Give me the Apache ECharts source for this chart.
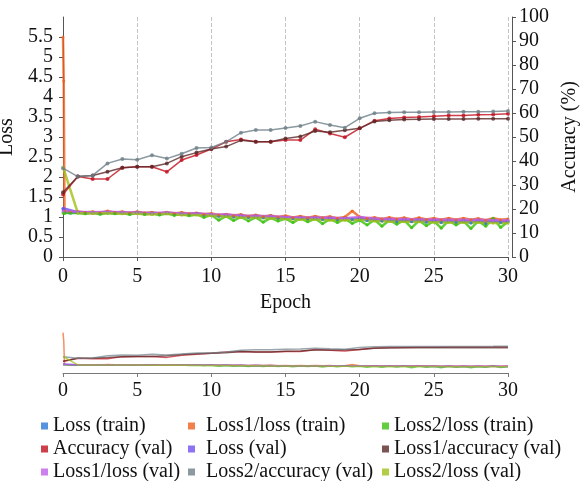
<!DOCTYPE html>
<html>
<head>
<meta charset="utf-8">
<script src="https://cdn.jsdelivr.net/npm/echarts@6/dist/echarts.min.js"></script>
<style>
html,body{margin:0;padding:0;background:#fff;}
#c{width:580px;height:481px;}
</style>
</head>
<body>
<div id="c"></div>
<script>
// ---- data ----
const trainX = [0,0.05,0.1,0.5,1,1.5,2,2.5,3,3.5,4,4.5,5,5.5,6,6.5,7,7.5,8,8.5,9,9.5,10,10.5,11,11.5,12,12.5,13,13.5,14,14.5,15,15.5,16,16.5,17,17.5,18,18.5,19,19.5,20,20.5,21,21.5,22,22.5,23,23.5,24,24.5,25,25.5,26,26.5,27,27.5,28,28.5,29,29.5,30];
const lossTrain = [1.2,1.16,1.12,
  1.1,1.12,1.1,1.11,1.09,1.12,1.1,1.11,1.08,1.12,1.09,1.1,1.07,1.11,1.07,1.1,1.06,1.09,1.04,1.07,
  1.02,1.06,1.0,1.05,0.99,1.04,0.98,1.03,0.97,1.0,0.96,1.0,0.95,1.0,0.94,0.99,0.93,0.98,0.94,0.97,
  0.91,0.96,0.9,0.96,0.88,0.95,0.88,0.95,0.87,0.94,0.86,0.94,0.86,0.93,0.85,0.93,0.84,0.95,0.86,0.9];
const loss1Train = [5.5,4.4,1.15,
  1.12,1.14,1.11,1.13,1.1,1.15,1.11,1.13,1.1,1.13,1.1,1.12,1.09,1.12,1.09,1.11,1.08,1.1,1.07,1.09,
  1.05,1.07,1.04,1.06,1.02,1.05,1.01,1.04,1.0,1.03,0.99,1.02,0.98,1.02,0.98,1.01,0.97,1.0,1.15,1.0,
  0.96,0.99,0.95,0.99,0.95,0.98,0.94,0.98,0.94,0.97,0.93,0.97,0.93,0.97,0.93,0.96,0.92,0.97,0.93,0.95];
const loss2Train = [1.1,1.1,1.09,
  1.1,1.1,1.08,1.11,1.07,1.1,1.08,1.1,1.06,1.11,1.06,1.1,1.05,1.09,1.04,1.08,1.03,1.07,0.99,1.05,
  0.92,1.02,0.91,1.0,0.9,0.99,0.87,0.98,0.9,0.96,0.86,0.97,0.88,0.96,0.83,0.95,0.86,0.96,0.84,0.92,
  0.8,0.93,0.77,0.92,0.82,0.92,0.73,0.91,0.78,0.9,0.72,0.91,0.8,0.9,0.71,0.9,0.77,0.97,0.74,0.88];

const valX = [0,1,2,3,4,5,6,7,8,9,10,11,12,13,14,15,16,17,18,19,20,21,22,23,24,25,26,27,28,29,30];
const accVal = [26,33.5,32.5,32.5,37.2,37.6,37.6,35.5,40.4,42.5,45,48,49,48,48,48.7,48.7,53.2,51.5,49.9,53.6,56.8,57.7,58.1,58.3,58.6,59,59,59.3,59.4,59.7];
const lossVal = [1.22,1.12,1.1,1.12,1.1,1.1,1.08,1.1,1.07,1.08,1.05,1.04,1.02,1.0,1.0,0.98,0.97,0.97,0.96,0.95,0.97,0.93,0.92,0.92,0.91,0.9,0.9,0.89,0.9,0.88,0.88];
const loss1AccVal = [27,33.5,34,35.5,37.2,37.6,37.6,39,41.8,43.5,45,46,48.6,48,48,49.4,50.2,52.5,52,52.8,53.6,56.5,57,57.3,57.4,57.5,57.5,57.5,57.6,57.6,57.6];
const loss1LossVal = [1.15,1.13,1.12,1.13,1.12,1.11,1.1,1.11,1.09,1.09,1.07,1.06,1.04,1.03,1.02,1.0,0.99,0.99,0.98,0.97,1.0,0.96,0.95,0.95,0.94,0.94,0.93,0.93,0.93,0.92,0.92];
const loss2AccVal = [37,33.5,34,39,40.8,40.5,42.4,41,43,45.4,45.6,48,51.8,52.9,52.9,53.75,54.6,56.4,55,53.9,57.8,59.9,60.2,60.3,60.3,60.4,60.4,60.5,60.5,60.6,60.8];
const loss2LossVal = [2.25,1.1,1.09,1.1,1.08,1.08,1.06,1.08,1.05,1.05,1.03,1.01,0.99,0.98,0.97,0.95,0.94,0.94,0.92,0.92,0.93,0.9,0.89,0.88,0.88,0.87,0.86,0.86,0.86,0.85,0.85];

const xTicks = [0,5,10,15,20,25,30];

const seriesDefs = [
  {name:'Loss (train)', x:trainX, y:lossTrain, color:'#2a78d8', acc:false},
  {name:'Loss1/loss (train)', x:trainX, y:loss1Train, color:'#f0601e', acc:false},
  {name:'Loss2/loss (train)', x:trainX, y:loss2Train, color:'#3cc010', acc:false},
  {name:'Accuracy (val)', x:valX, y:accVal, color:'#c0101e', acc:true},
  {name:'Loss (val)', x:valX, y:lossVal, color:'#7050f0', acc:false},
  {name:'Loss1/accuracy (val)', x:valX, y:loss1AccVal, color:'#5a2828', acc:true},
  {name:'Loss1/loss (val)', x:valX, y:loss1LossVal, color:'#c060e8', acc:false},
  {name:'Loss2/accuracy (val)', x:valX, y:loss2AccVal, color:'#6e8088', acc:true},
  {name:'Loss2/loss (val)', x:valX, y:loss2LossVal, color:'#a0c018', acc:false}
];

const FONT = '"Liberation Serif","Times New Roman",serif';
const series = [];
seriesDefs.forEach(d => {
  const pts = d.x.map((xv,i)=>[xv,d.y[i]]);
  series.push({
    name:d.name, type:'line', xAxisIndex:0, yAxisIndex:d.acc?1:0,
    data:pts, color:d.color, symbol:'circle', symbolSize:d.acc?4:3,
    showSymbol:true,
    lineStyle:{width:d.acc?1.5:2.5, opacity:0.8}, itemStyle:{opacity:0.8},
    z: d.acc?3:2
  });
});
seriesDefs.forEach(d => {
  const pts = d.x.map((xv,i)=>[xv,d.y[i]]);
  series.push({
    name:d.name, type:'line', xAxisIndex:1, yAxisIndex:d.acc?3:2,
    data:pts, color:d.color, showSymbol:false,
    lineStyle:{width:1.5, opacity:0.7}
  });
});

function legend(names, left, pad){
  return {
    type:'plain', orient:'vertical', left:left, top:411, height:100, itemGap:3,
    icon:'rect', itemWidth:7, itemHeight:7,
    data:names,
    textStyle:{fontFamily:FONT, fontSize:20, color:'#111', padding:[0,0,0,pad]}
  };
}

const chart = echarts.init(document.getElementById('c'), null, {renderer:'canvas'});
chart.setOption({
  animation:false,
  backgroundColor:'#fff',
  grid:[
    {left:63, right:72, top:17, height:240, containLabel:false, outerBoundsMode:'none'},
    {left:63, right:72, top:329, height:44, containLabel:false, outerBoundsMode:'none'}
  ],
  xAxis:[
    {type:'value', gridIndex:0, min:xTicks[0], max:xTicks[xTicks.length-1], interval:5,
     name:'Epoch', nameLocation:'middle', nameGap:36,
     nameTextStyle:{fontFamily:FONT, fontSize:20, color:'#111'},
     axisLine:{lineStyle:{color:'#555'}},
     axisTick:{show:true, length:4, lineStyle:{color:'#555'}},
     axisLabel:{fontFamily:FONT, fontSize:20, color:'#111', margin:10},
     splitLine:{show:true, lineStyle:{color:'#c4c4c4', type:'dashed'}}},
    {type:'value', gridIndex:1, min:xTicks[0], max:xTicks[xTicks.length-1], interval:5,
     axisLine:{lineStyle:{color:'#777'}},
     axisTick:{show:true, length:4, lineStyle:{color:'#777'}},
     axisLabel:{fontFamily:FONT, fontSize:20, color:'#111', margin:8},
     splitLine:{show:false}}
  ],
  yAxis:[
    {type:'value', gridIndex:0, min:0, max:6, interval:0.5, position:'left', offset:2,
     name:'Loss', nameLocation:'middle', nameGap:36, nameRotate:90,
     nameTextStyle:{fontFamily:FONT, fontSize:20, color:'#111'},
     axisLine:{show:true, lineStyle:{color:'#555'}},
     axisTick:{show:true, length:4, lineStyle:{color:'#555'}},
     axisLabel:{fontFamily:FONT, fontSize:20, color:'#111', margin:8, showMaxLabel:false},
     splitLine:{show:false}},
    {type:'value', gridIndex:0, min:0, max:100, interval:10, position:'right', offset:4,
     name:'Accuracy (%)', nameLocation:'middle', nameGap:48, nameRotate:90,
     nameTextStyle:{fontFamily:FONT, fontSize:20, color:'#111'},
     axisLine:{show:true, lineStyle:{color:'#555'}},
     axisTick:{show:true, length:4, lineStyle:{color:'#555'}},
     axisLabel:{fontFamily:FONT, fontSize:20, color:'#111', margin:7},
     splitLine:{show:false}},
    {type:'value', gridIndex:1, min:0, max:6, show:false},
    {type:'value', gridIndex:1, min:0, max:100, show:false}
  ],
  legend:[
    legend(['Loss (train)','Accuracy (val)','Loss1/loss (val)'], 36, 0),
    legend(['Loss1/loss (train)','Loss (val)','Loss2/accuracy (val)'], 183, 6),
    legend(['Loss2/loss (train)','Loss1/accuracy (val)','Loss2/loss (val)'], 377, 0)
  ],
  series:series
});
</script>
</body>
</html>
